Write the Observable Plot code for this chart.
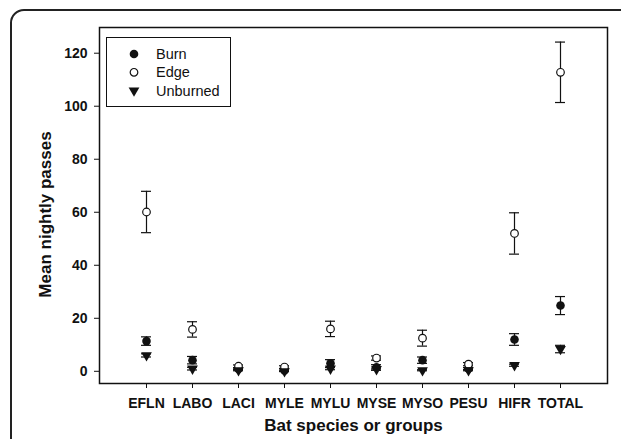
<!DOCTYPE html>
<html>
<head>
<meta charset="utf-8">
<script src="https://cdn.jsdelivr.net/npm/d3@7"></script>
<script src="https://cdn.jsdelivr.net/npm/@observablehq/plot@0.6"></script>
<style>
  html, body { margin: 0; padding: 0; background: white; }
  #wrap { position: relative; width: 621px; height: 439px; overflow: hidden; background: white; font-family: "Liberation Sans", Arial, sans-serif; }
  #wrap svg.plot { position: absolute; left: 0; top: 0; }
  #border { position: absolute; left: 10px; top: 9px; width: 700px; height: 600px; border: 2px solid #222; border-radius: 14px; pointer-events: none; }
  #legend { position: absolute; left: 106px; top: 37px; width: 123px; height: 68px; border: 1px solid #111; background: white; }
</style>
</head>
<body>
<div id="wrap"><div id="border"></div></div>
<script>
const categories = ["EFLN", "LABO", "LACI", "MYLE", "MYLU", "MYSE", "MYSO", "PESU", "HIFR", "TOTAL"];
const burn        = [11.4, 4.2, 0.9, 0.3, 3.0, 1.5, 4.2, 1.0, 12.0, 24.8];
const burnErr     = [1.6, 1.4, 0.3, 0.2, 1.4, 1.0, 1.2, 0.4, 2.2, 3.4];
const edge        = [60.1, 15.8, 1.9, 1.6, 16.0, 5.0, 12.5, 2.7, 52.0, 112.8];
const edgeErr     = [7.8, 2.9, 0.5, 0.5, 2.9, 0.8, 3.0, 0.6, 7.8, 11.4];
const unburned    = [6.0, 1.0, 0.4, 0.0, 1.0, 0.8, 0.4, 0.4, 2.3, 8.4];
const unburnedErr = [0.6, 0.5, 0.2, 0.1, 0.4, 0.4, 0.2, 0.2, 0.4, 1.4];
const groups = ["Burn", "Edge", "Unburned"];
const yTicks = [0, 20, 40, 60, 80, 100, 120];
const xTitle = "Bat species or groups";
const yTitle = "Mean nightly passes";

function rowsFor(group, means, errs) {
  return categories.map((c, i) => ({cat: c, group, mean: means[i], err: errs[i]}));
}
const burnRows = rowsFor("Burn", burn, burnErr);
const edgeRows = rowsFor("Edge", edge, edgeErr);
const unbRows = rowsFor("Unburned", unburned, unburnedErr);
const allRows = [...burnRows, ...edgeRows, ...unbRows];

const downTriangle = {
  draw(context, size) {
    const s = Math.sqrt(4 * size / Math.sqrt(3));
    const h = s * Math.sqrt(3) / 2;
    context.moveTo(-s / 2, -h / 3);
    context.lineTo(s / 2, -h / 3);
    context.lineTo(0, 2 * h / 3);
    context.closePath();
  }
};

const capStyle = {x1: "cat", x2: "cat", insetLeft: -5, insetRight: -5, strokeWidth: 1.2, stroke: "#111"};

const chart = Plot.plot({
  width: 621,
  height: 439,
  marginLeft: 99,
  marginRight: 14,
  marginTop: 27,
  marginBottom: 56,
  style: {fontFamily: "'Liberation Sans', Arial, sans-serif", background: "white", color: "#111"},
  x: {type: "point", domain: categories, padding: 1, label: null},
  y: {domain: [-4.6, 129.7], label: null},
  marks: [
    Plot.axisY({ticks: yTicks, tickSize: 5, tickPadding: 7, fontSize: 14, fontWeight: "bold", label: null}),
    Plot.axisX({tickSize: 5, tickPadding: 10, fontSize: 14, fontWeight: "bold", label: null}),
    Plot.frame({strokeWidth: 1.5, stroke: "#111"}),
    Plot.ruleX(allRows, {x: "cat", y1: d => d.mean - d.err, y2: d => d.mean + d.err, strokeWidth: 1.2, stroke: "#111"}),
    Plot.ruleY(allRows, {...capStyle, y: d => d.mean + d.err}),
    Plot.ruleY(allRows, {...capStyle, y: d => d.mean - d.err}),
    Plot.dot(burnRows, {x: "cat", y: "mean", r: 4.3, fill: "#111", stroke: "none"}),
    Plot.dot(edgeRows, {x: "cat", y: "mean", r: 3.8, fill: "white", stroke: "#111", strokeWidth: 1.2}),
    Plot.dot(unbRows, {x: "cat", y: "mean", r: 4, symbol: downTriangle, fill: "#111", stroke: "none"}),
    Plot.text([xTitle], {text: d => d, frameAnchor: "bottom", dy: 47, fontSize: 17, fontWeight: "bold", fill: "#111"}),
    Plot.text([yTitle], {text: d => d, frameAnchor: "left", textAnchor: "middle", dx: -54, dy: 9, rotate: -90, fontSize: 17, fontWeight: "bold", fill: "#111"})
  ]
});
chart.classList.add("plot");
const wrap = document.getElementById("wrap");
wrap.insertBefore(chart, wrap.firstChild);

// Legend
const legend = document.createElement("div");
legend.id = "legend";
wrap.appendChild(legend);
const lsvg = d3.select(legend).append("svg").attr("width", 123).attr("height", 68)
  .style("font-family", "'Liberation Sans', Arial, sans-serif");
const legendSymbols = [
  {path: d3.symbol(d3.symbolCircle, Math.PI * 4.3 * 4.3)(), fill: "#111", stroke: "none"},
  {path: d3.symbol(d3.symbolCircle, Math.PI * 3.8 * 3.8)(), fill: "white", stroke: "#111"},
  {path: d3.symbol(downTriangle, Math.PI * 16)(), fill: "#111", stroke: "none"}
];
groups.forEach((g, i) => {
  const y = 16 + i * 18.3;
  lsvg.append("path").attr("d", legendSymbols[i].path)
    .attr("transform", `translate(27,${y})`)
    .attr("fill", legendSymbols[i].fill).attr("stroke", legendSymbols[i].stroke).attr("stroke-width", 1.2);
  lsvg.append("text").attr("x", 49).attr("y", y).attr("dy", "0.35em")
    .attr("font-size", 14.5).attr("fill", "#111").text(g);
});
</script>
</body>
</html>
